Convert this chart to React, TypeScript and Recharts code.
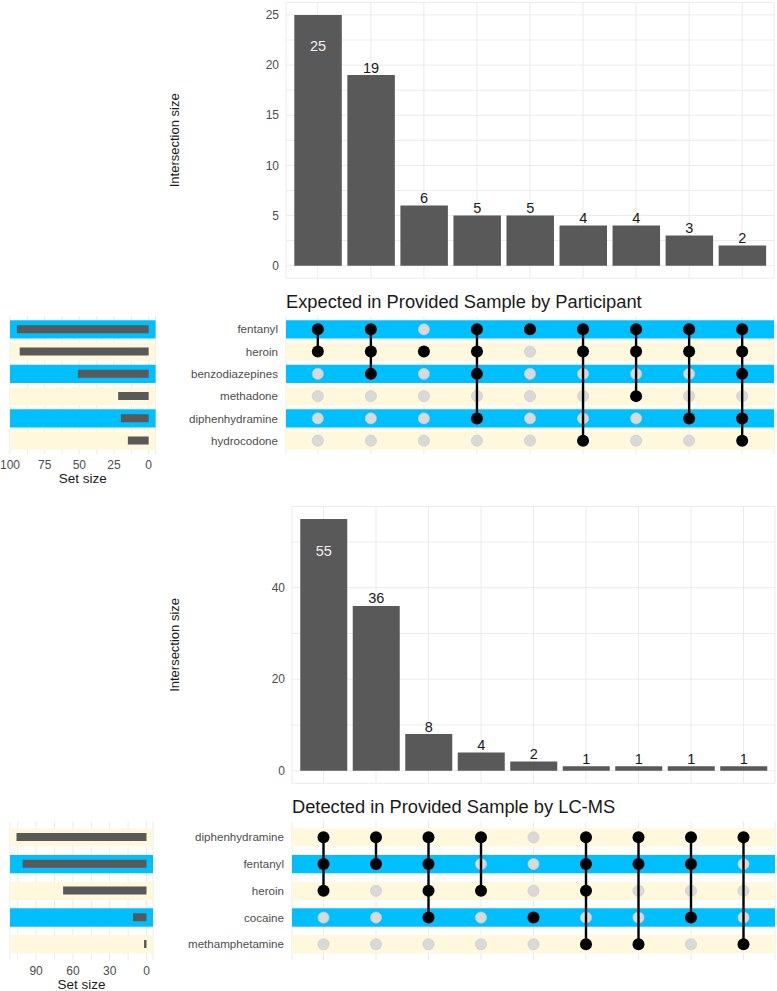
import React from "react";
import {
  BarChart,
  Bar,
  ComposedChart,
  ScatterChart,
  Scatter,
  XAxis,
  YAxis,
  CartesianGrid,
  LabelList,
  ReferenceArea,
} from "recharts";

// Expected in provided sample (participant report)
const expectedSets = ["fentanyl", "heroin", "benzodiazepines", "methadone", "diphenhydramine", "hydrocodone"];
const expectedSetSizes = [95, 93, 51, 22, 20, 15];
const expectedCounts = [25, 19, 6, 5, 5, 4, 4, 3, 2];
const expectedMembers = [
  ["fentanyl", "heroin"],
  ["fentanyl", "heroin", "benzodiazepines"],
  ["heroin"],
  ["fentanyl", "heroin", "benzodiazepines", "diphenhydramine"],
  ["fentanyl"],
  ["fentanyl", "heroin", "hydrocodone"],
  ["fentanyl", "heroin", "methadone"],
  ["fentanyl", "heroin", "diphenhydramine"],
  ["fentanyl", "heroin", "benzodiazepines", "diphenhydramine", "hydrocodone"],
];
const expectedCountMajor = [0, 5, 10, 15, 20, 25];
const expectedCountMinor = [2.5, 7.5, 12.5, 17.5, 22.5];
const expectedSizeMajor = [0, 25, 50, 75, 100];
const expectedSizeMinor = [12.5, 37.5, 62.5, 87.5];

// Detected in provided sample by LC-MS
const detectedSets = ["diphenhydramine", "fentanyl", "heroin", "cocaine", "methamphetamine"];
const detectedSetSizes = [106, 101, 68, 11, 2];
const detectedCounts = [55, 36, 8, 4, 2, 1, 1, 1, 1];
const detectedMembers = [
  ["diphenhydramine", "fentanyl", "heroin"],
  ["diphenhydramine", "fentanyl"],
  ["diphenhydramine", "fentanyl", "heroin", "cocaine"],
  ["diphenhydramine", "heroin"],
  ["cocaine"],
  ["diphenhydramine", "fentanyl", "heroin", "methamphetamine"],
  ["diphenhydramine", "fentanyl", "methamphetamine"],
  ["diphenhydramine", "fentanyl", "cocaine"],
  ["diphenhydramine", "methamphetamine"],
];
const detectedCountMajor = [0, 20, 40];
const detectedCountMinor = [10, 30, 50];
const detectedSizeMajor = [0, 30, 60, 90];
const detectedSizeMinor = [15, 45, 75, 105];

const FONT = '"Liberation Sans", Arial, Helvetica, sans-serif';
const BAR = "#595959";
const GRID = "#EBEBEB";
const BLUE = "#00BFFF";
const SILK = "#FFF8DC";
const TEXT = "#4D4D4D";
const W = 777;
const LEFT = 160;

type Layout = {
  barsTop: number;
  barsHeight: number;
  barsMargin: { top: number; bottom: number };
  countDomain: [number, number];
  plotLeft: number;
  plotRight: number;
  barSize: number;
  titleTop: number;
  matrixTop: number;
  matrixHeight: number;
  matrixMargin: { top: number; bottom: number };
  rowHalf: number;
  setDomain: [number, number];
  setLeft: number;
  setRight: number;
};

const layout1: Layout = {
  barsTop: 0,
  barsHeight: 290,
  barsMargin: { top: 2.4, bottom: 11.8 },
  countDomain: [-1.25, 26.25],
  plotLeft: 286,
  plotRight: 774,
  barSize: 47.5,
  titleTop: 291,
  matrixTop: 310,
  matrixHeight: 150,
  matrixMargin: { top: 6, bottom: 6 },
  rowHalf: 0.41,
  setDomain: [-5, 100],
  setLeft: 10,
  setRight: 155.6,
};

const layout2: Layout = {
  barsTop: 500,
  barsHeight: 290,
  barsMargin: { top: 6.5, bottom: 6.7 },
  countDomain: [-2.75, 57.75],
  plotLeft: 292,
  plotRight: 775,
  barSize: 47,
  titleTop: 796,
  matrixTop: 815,
  matrixHeight: 151,
  matrixMargin: { top: 6.3, bottom: 5.7 },
  rowHalf: 0.343,
  setDomain: [-5.3, 111.3],
  setLeft: 10,
  setRight: 153,
};

const stripeColor = (i: number, n: number) => ((n - 1 - i) % 2 === 0 ? SILK : BLUE);

const GreyDot = (p: any) => (
  <circle cx={p.cx} cy={p.cy} r={5.6} fill="#D9D9D9" stroke="#C8C8C8" strokeWidth={0.6} />
);
const BlackDot = (p: any) => <circle cx={p.cx} cy={p.cy} r={6} fill="#000" />;

type PanelProps = {
  title: string;
  sets: string[];
  setSizes: number[];
  counts: number[];
  members: string[][];
  countMajor: number[];
  countMinor: number[];
  sizeMajor: number[];
  sizeMinor: number[];
  L: Layout;
};

function UpsetPanel({ title, sets, setSizes, counts, members, countMajor, countMinor, sizeMajor, sizeMinor, L }: PanelProps) {
  const cols = counts.map((_, i) => i + 1);
  const barRows = counts.map((count, i) => ({ x: i + 1, count }));
  const maxCount = Math.max(...counts);
  const rowTicks = sets.map((_, i) => i);
  const rowDomain: [number, number] = [-0.6, sets.length - 0.4];
  const xDomain: [number, number] = [0.4, counts.length + 0.6];
  const countTicks = [...countMajor, ...countMinor].sort((a, b) => a - b);
  const sizeTicks = [...sizeMajor, ...sizeMinor].sort((a, b) => a - b);
  const setRows = setSizes.map((size, i) => ({ row: i, size }));

  const emptyDots: { x: number; y: number }[] = [];
  members.forEach((m, c) =>
    sets.forEach((s, r) => {
      if (!m.includes(s)) emptyDots.push({ x: c + 1, y: r });
    })
  );
  const memberDots = members.map((m, c) =>
    sets.map((s, r) => ({ s, x: c + 1, y: r })).filter((d) => m.includes(d.s))
  );

  const matrixPlotH = L.matrixHeight - L.matrixMargin.top - L.matrixMargin.bottom;
  const setHeight = L.matrixMargin.top + matrixPlotH + 31;

  const stripes = sets.map((s, i) => (
    <ReferenceArea
      key={s}
      y1={i - L.rowHalf}
      y2={i + L.rowHalf}
      fill={stripeColor(i, sets.length)}
      fillOpacity={1}
      stroke="none"
      ifOverflow="visible"
    />
  ));

  const CountLabel = (p: any) => {
    const cx = p.x + p.width / 2;
    if (p.value === maxCount) {
      return (
        <text x={cx} y={p.y + 36.5} textAnchor="middle" fill="#F0F0F0" fontSize={14.5}>
          {p.value}
        </text>
      );
    }
    return (
      <text x={cx} y={p.y - 2.6} textAnchor="middle" fill="#1A1A1A" fontSize={14.5}>
        {p.value}
      </text>
    );
  };

  const YTitle = (p: any) => {
    const vb = p.viewBox || {};
    const cy = vb.y + vb.height / 2;
    return (
      <text x={15} y={cy} transform={`rotate(-90, 15, ${cy})`} textAnchor="middle" dominantBaseline="central" fontSize={13} fill="#1A1A1A">
        Intersection size
      </text>
    );
  };

  const XTitle = (p: any) => {
    const vb = p.viewBox || {};
    return (
      <text x={vb.x + vb.width / 2} y={vb.y + 28.8} textAnchor="middle" fontSize={13.5} fill="#1A1A1A">
        Set size
      </text>
    );
  };

  return (
    <>
      <div style={{ position: "absolute", left: LEFT, top: L.barsTop }}>
        <BarChart
          width={W - LEFT}
          height={L.barsHeight}
          data={barRows}
          margin={{ top: L.barsMargin.top, bottom: L.barsMargin.bottom, left: 0, right: W - L.plotRight }}
        >
          <CartesianGrid stroke={GRID} />
          <XAxis type="number" dataKey="x" domain={xDomain} ticks={cols} allowDataOverflow hide />
          <YAxis
            type="number"
            domain={L.countDomain}
            ticks={countTicks}
            interval={0}
            allowDataOverflow
            width={L.plotLeft - LEFT}
            tickFormatter={(v: number) => (countMajor.includes(v) ? String(v) : "")}
            tickLine={false}
            axisLine={false}
            tickSize={0}
            tickMargin={7}
            tick={{ fill: TEXT, fontSize: 12 }}
            label={YTitle}
          />
          <Bar dataKey="count" fill={BAR} barSize={L.barSize} isAnimationActive={false}>
            <LabelList dataKey="count" content={CountLabel} />
          </Bar>
        </BarChart>
      </div>

      <div
        style={{
          position: "absolute",
          left: L.plotLeft,
          top: L.titleTop,
          fontSize: 18.3,
          lineHeight: "22px",
          color: "#1A1A1A",
          whiteSpace: "nowrap",
        }}
      >
        {title}
      </div>

      <div style={{ position: "absolute", left: LEFT, top: L.matrixTop }}>
        <ScatterChart
          width={W - LEFT}
          height={L.matrixHeight}
          margin={{ top: L.matrixMargin.top, bottom: L.matrixMargin.bottom, left: 0, right: W - L.plotRight }}
        >
          <CartesianGrid stroke={GRID} horizontal={false} />
          {stripes}
          <XAxis type="number" dataKey="x" domain={xDomain} ticks={cols} allowDataOverflow hide />
          <YAxis
            type="number"
            dataKey="y"
            domain={rowDomain}
            ticks={rowTicks}
            interval={0}
            reversed
            allowDataOverflow
            width={L.plotLeft - LEFT}
            tickFormatter={(v: number) => sets[v] ?? ""}
            tickLine={false}
            axisLine={false}
            tickSize={0}
            tickMargin={8}
            tick={{ fill: TEXT, fontSize: 11.6 }}
          />
          <Scatter data={emptyDots} shape={GreyDot} isAnimationActive={false} />
          {memberDots.map((d, c) => (
            <Scatter
              key={c}
              data={d}
              shape={BlackDot}
              line={{ stroke: "#000", strokeWidth: 2.4 }}
              isAnimationActive={false}
            />
          ))}
        </ScatterChart>
      </div>

      <div style={{ position: "absolute", left: 0, top: L.matrixTop }}>
        <ComposedChart
          layout="vertical"
          width={LEFT}
          height={setHeight}
          data={setRows}
          margin={{ top: L.matrixMargin.top, bottom: 0, left: L.setLeft, right: LEFT - L.setRight }}
        >
          <CartesianGrid stroke={GRID} horizontal={false} />
          {stripes}
          <XAxis
            type="number"
            reversed
            domain={L.setDomain}
            ticks={sizeTicks}
            interval={0}
            allowDataOverflow
            height={31}
            tickFormatter={(v: number) => (sizeMajor.includes(v) ? String(v) : "")}
            tickLine={false}
            axisLine={false}
            tickSize={0}
            tickMargin={6}
            tick={{ fill: TEXT, fontSize: 12, stroke: "none" }}
            label={XTitle}
          />
          {/* vertical layout already draws the first row at the top */}
          <YAxis type="number" dataKey="row" domain={rowDomain} ticks={rowTicks} allowDataOverflow hide />
          <Bar dataKey="size" fill={BAR} barSize={8} isAnimationActive={false} />
        </ComposedChart>
      </div>
    </>
  );
}

export default function App() {
  return (
    <div
      style={{
        position: "absolute",
        left: 0,
        top: 0,
        width: W,
        height: 991,
        background: "#fff",
        fontFamily: FONT,
        overflow: "hidden",
      }}
    >
      <UpsetPanel
        title="Expected in Provided Sample by Participant"
        sets={expectedSets}
        setSizes={expectedSetSizes}
        counts={expectedCounts}
        members={expectedMembers}
        countMajor={expectedCountMajor}
        countMinor={expectedCountMinor}
        sizeMajor={expectedSizeMajor}
        sizeMinor={expectedSizeMinor}
        L={layout1}
      />
      <UpsetPanel
        title="Detected in Provided Sample by LC-MS"
        sets={detectedSets}
        setSizes={detectedSetSizes}
        counts={detectedCounts}
        members={detectedMembers}
        countMajor={detectedCountMajor}
        countMinor={detectedCountMinor}
        sizeMajor={detectedSizeMajor}
        sizeMinor={detectedSizeMinor}
        L={layout2}
      />
    </div>
  );
}
